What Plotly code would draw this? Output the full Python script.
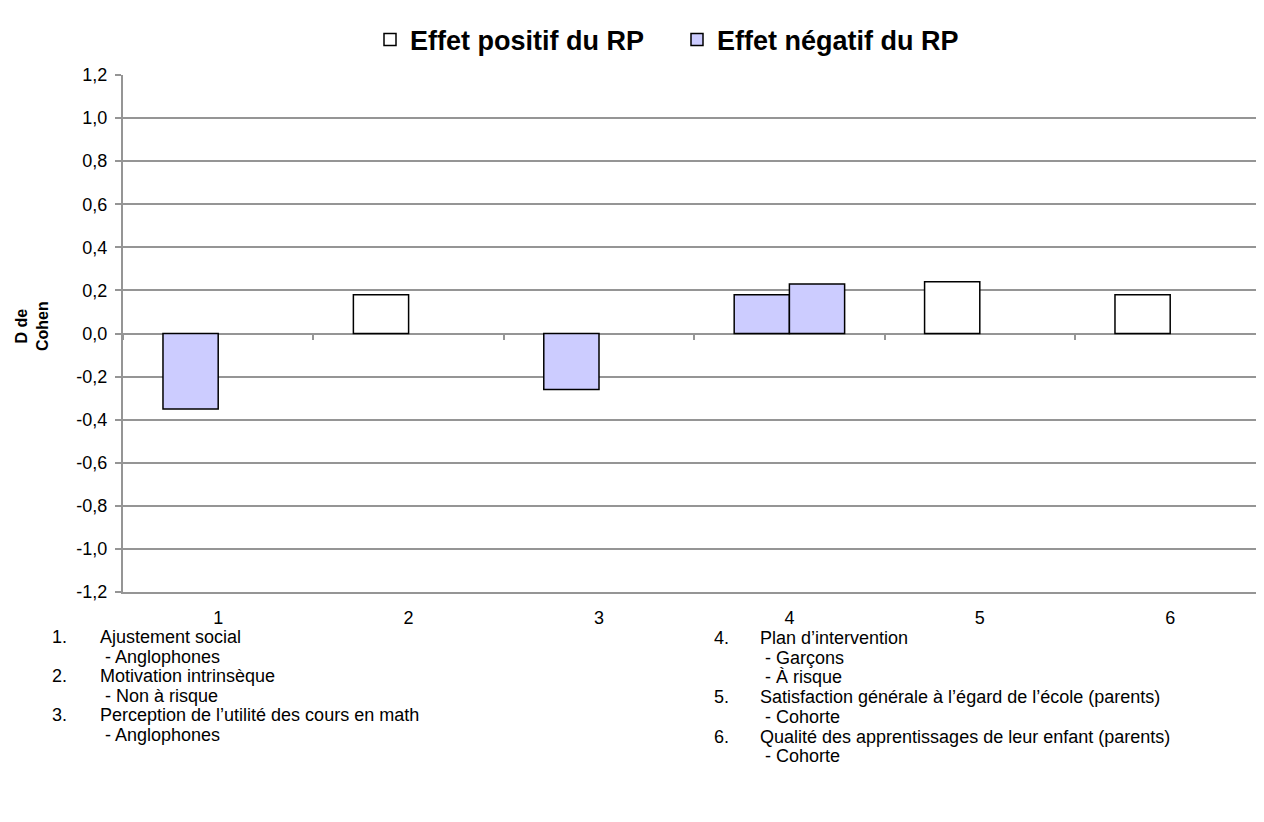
import plotly.graph_objects as go

# ~~~~~~~~~~~~~~~~~~~~~~~~~~~~~~~~~~~~~~~~~~~~~~~~~~~~~~
# data
categories = [1, 2, 3, 4, 5, 6]
cat_labels = ["1", "2", "3", "4", "5", "6"]

# left bar slot
positif = [None, 0.18, None, None, 0.24, 0.18]
negatif_left = [-0.35, None, -0.26, 0.18, None, None]
# right bar slot (only item 4 has a second bar)
negatif_right = [None, None, None, 0.23, None, None]

y_ticks = [-1.2, -1.0, -0.8, -0.6, -0.4, -0.2, 0.0, 0.2, 0.4, 0.6, 0.8, 1.0, 1.2]
y_ticktext = ["-1,2", "-1,0", "-0,8", "-0,6", "-0,4", "-0,2", "0,0",
              "0,2", "0,4", "0,6", "0,8", "1,0", "1,2"]
boundaries = [0.5, 1.5, 2.5, 3.5, 4.5, 5.5, 6.5]

notes_left = [
    ("1.", "Ajustement social"),
    ("", " - Anglophones"),
    ("2.", "Motivation intrinsèque"),
    ("", " - Non à risque"),
    ("3.", "Perception de l’utilité des cours en math"),
    ("", " - Anglophones"),
]
notes_right = [
    ("4.", "Plan d’intervention"),
    ("", " - Garçons"),
    ("", " - À risque"),
    ("5.", "Satisfaction générale à l’égard de l’école (parents)"),
    ("", " - Cohorte"),
    ("6.", "Qualité des apprentissages de leur enfant (parents)"),
    ("", " - Cohorte"),
]

# ~~~~~~~~~~~~~~~~~~~~~~~~~~~~~~~~~~~~~~~~~~~~~~~~~~~~~~
# layout geometry (page pixels; the html body adds an 8px margin)
OFF = 8
PLOT_L, PLOT_T, PLOT_B = 123, 75, 592
CAT_PX = 190.4          # width of one category slot
W, H = 1272, 790        # plot runs past the right edge of the window, like the source
M_L, M_R, M_T = PLOT_L - OFF, 0, PLOT_T - OFF
M_B = H - (PLOT_B - OFF)
PW = W - M_L - M_R
PH = H - M_T - M_B
X_RANGE = [0.5, 0.5 + PW / CAT_PX]

FONT = "Liberation Sans, Arial, sans-serif"
LAVENDER = "#CCCCFF"
GRID = "#959595"
BAR_W = 0.29


def px_x(x):
    return (x - PLOT_L) / PW


def px_y(y):
    return (PLOT_B - y) / PH


fig = go.Figure()

bar_line = dict(color="black", width=1.5)
fig.add_trace(go.Bar(
    x=categories, y=positif, name="<b>Effet positif du RP</b>",
    marker=dict(color="white", line=bar_line),
    width=BAR_W, offset=-BAR_W,
))
fig.add_trace(go.Bar(
    x=categories, y=negatif_left, name="<b>Effet négatif du RP</b>",
    marker=dict(color=LAVENDER, line=bar_line),
    width=BAR_W, offset=-BAR_W,
))
fig.add_trace(go.Bar(
    x=categories, y=negatif_right, name="Effet négatif du RP",
    marker=dict(color=LAVENDER, line=bar_line),
    width=BAR_W, offset=0, showlegend=False,
))
# empty trace so the category-boundary axis at y=0 gets drawn
fig.add_trace(go.Scatter(x=[], y=[], xaxis="x2", showlegend=False))

annotations = []
# y title
annotations.append(dict(
    text="<b>D de<br>Cohen</b>", textangle=-90,
    x=px_x(32), y=px_y(326), xref="paper", yref="paper",
    xanchor="center", yanchor="middle",
    showarrow=False, font=dict(family=FONT, size=16, color="black"),
))


# notes under the chart
def add_notes(notes, x_num, x_txt, y0, step):
    for i, (num, txt) in enumerate(notes):
        y = px_y(y0 + i * step)
        if num:
            annotations.append(dict(
                text=num, x=px_x(x_num), y=y, xref="paper", yref="paper",
                xanchor="left", yanchor="middle", showarrow=False,
                font=dict(family=FONT, size=18, color="black"),
            ))
        annotations.append(dict(
            text=txt, x=px_x(x_txt), y=y, xref="paper", yref="paper",
            xanchor="left", yanchor="middle", showarrow=False,
            font=dict(family=FONT, size=18, color="black"),
        ))


add_notes(notes_left, 50, 98, 637, 19.6)
add_notes(notes_right, 712, 758, 638, 19.7)

fig.update_layout(
    width=W, height=H,
    margin=dict(l=M_L, r=M_R, t=M_T, b=M_B),
    paper_bgcolor="white", plot_bgcolor="white",
    barmode="overlay",
    font=dict(family=FONT, size=18, color="black"),
    legend=dict(
        orientation="h", x=px_x(370), xanchor="left",
        y=px_y(40), yanchor="middle",
        font=dict(family=FONT, size=27, color="black"),
        itemwidth=30, entrywidth=262,
    ),
    xaxis=dict(
        range=X_RANGE, tickvals=categories, ticktext=cat_labels,
        ticks="", showgrid=False, zeroline=False,
        showline=True, linecolor=GRID, linewidth=2,
        tickfont=dict(family=FONT, size=18), ticklabelstandoff=8,
    ),
    xaxis2=dict(
        overlaying="x", anchor="free", position=0.5,
        range=X_RANGE, tickvals=boundaries, showticklabels=False,
        ticks="outside", ticklen=5, tickcolor=GRID, tickwidth=1.5,
        showgrid=False, zeroline=False, showline=False,
    ),
    yaxis=dict(
        range=[-1.2, 1.2], tickvals=y_ticks, ticktext=y_ticktext,
        ticks="outside", ticklen=6, tickcolor=GRID, tickwidth=1.5,
        showline=True, linecolor=GRID, linewidth=2,
        showgrid=True, gridcolor=GRID, gridwidth=2,
        zeroline=True, zerolinecolor=GRID, zerolinewidth=2,
        tickfont=dict(family=FONT, size=18), ticklabelstandoff=4,
    ),
    annotations=annotations,
)

fig.write_html("out.html")
